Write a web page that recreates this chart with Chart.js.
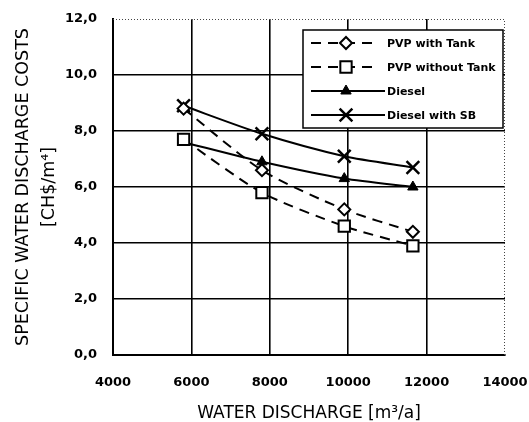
<!DOCTYPE html>
<html>
<head>
<meta charset="utf-8">
<script src="https://cdn.jsdelivr.net/npm/chart.js@4.4.1/dist/chart.umd.min.js"></script>
<style>
  body { margin: 0; background: #fff; }
  canvas { display: block; }
</style>
</head>
<body>
<canvas id="chart" width="529" height="422"></canvas>
<script>
// data
const discharge = [5800, 7800, 9900, 11650];
const pvpWithTank = [8.8, 6.6, 5.2, 4.4];
const pvpWithoutTank = [7.7, 5.8, 4.6, 3.9];
const diesel = [7.6, 6.9, 6.3, 6.0];
const dieselWithSB = [8.9, 7.9, 7.1, 6.7];
const seriesNames = ["PVP with Tank", "PVP without Tank", "Diesel", "Diesel with SB"];

const toPoints = (ys) => ys.map((y, i) => ({ x: discharge[i], y: y }));
const comma = (v) => v.toFixed(1).replace(".", ",");

// small legend box drawn inside the plot, top right
const boxLegend = {
  id: "boxLegend",
  afterDatasetsDraw(chart) {
    const { ctx, chartArea } = chart;
    const w = 200, h = 98;
    const left = chartArea.right - w - 2;
    const top = chartArea.top + 11;
    ctx.save();
    ctx.fillStyle = "#fff";
    ctx.fillRect(left, top, w, h);
    ctx.strokeStyle = "#000";
    ctx.lineWidth = 1.5;
    ctx.strokeRect(left, top, w, h);
    chart.data.datasets.forEach((ds, i) => {
      const y = top + 13 + i * 24;
      ctx.strokeStyle = "#000";
      ctx.lineWidth = 2;
      ctx.setLineDash(ds.borderDash || []);
      ctx.beginPath();
      ctx.moveTo(left + 8, y);
      ctx.lineTo(left + (ds.borderDash ? 76 : 82), y);
      ctx.stroke();
      ctx.setLineDash([]);
      ctx.fillStyle = ds.pointBackgroundColor;
      ctx.lineWidth = ds.pointBorderWidth;
      Chart.helpers.drawPoint(ctx, { pointStyle: ds.pointStyle, radius: ds.pointRadius, rotation: 0, borderWidth: ds.pointBorderWidth }, left + 43, y);
      ctx.fillStyle = "#000";
      ctx.font = "bold 11px 'DejaVu Sans'";
      ctx.textBaseline = "middle";
      ctx.fillText(ds.label, left + 84, y + 1);
    });
    ctx.restore();
  },
};

// dotted top and right edge of the plot area
const dottedFrame = {
  id: "dottedFrame",
  beforeDatasetsDraw(chart) {
    const { ctx, chartArea } = chart;
    ctx.save();
    ctx.strokeStyle = "#444";
    ctx.lineWidth = 1;
    ctx.setLineDash([1, 2]);
    ctx.beginPath();
    ctx.moveTo(chartArea.left, chartArea.top + 0.5);
    ctx.lineTo(chartArea.right - 0.5, chartArea.top + 0.5);
    ctx.lineTo(chartArea.right - 0.5, chartArea.bottom);
    ctx.stroke();
    ctx.restore();
  },
};

const lineDefaults = {
  borderColor: "#000",
  borderWidth: 2,
  tension: 0.25,
  pointBorderColor: "#000",
  fill: false,
};

new Chart(document.getElementById("chart"), {
  type: "line",
  data: {
    datasets: [
      {
        ...lineDefaults,
        label: seriesNames[0],
        data: toPoints(pvpWithTank),
        borderDash: [10, 7],
        pointStyle: "rectRot",
        pointRadius: 6,
        pointBackgroundColor: "#fff",
        pointBorderWidth: 2,
      },
      {
        ...lineDefaults,
        label: seriesNames[1],
        data: toPoints(pvpWithoutTank),
        borderDash: [10, 7],
        pointStyle: "rect",
        pointRadius: 8,
        pointBackgroundColor: "#fff",
        pointBorderWidth: 2,
      },
      {
        ...lineDefaults,
        label: seriesNames[2],
        data: toPoints(diesel),
        pointStyle: "triangle",
        pointRadius: 6,
        pointBackgroundColor: "#000",
        pointBorderWidth: 1,
      },
      {
        ...lineDefaults,
        label: seriesNames[3],
        data: toPoints(dieselWithSB),
        pointStyle: "crossRot",
        pointRadius: 9,
        pointBackgroundColor: "#000",
        pointBorderWidth: 2.5,
      },
    ],
  },
  options: {
    responsive: false,
    animation: false,
    layout: { padding: { top: 19, right: 24, left: 0, bottom: 0 } },
    plugins: {
      legend: { display: false },
      tooltip: { enabled: false },
    },
    scales: {
      x: {
        type: "linear",
        min: 4000,
        max: 14000,
        afterFit: (scale) => {
          scale.height = 67;
          scale.paddingLeft = 0;
          scale.paddingRight = 0;
        },
        ticks: {
          stepSize: 2000,
          padding: 20,
          color: "#000",
          font: { family: "DejaVu Sans", size: 13, weight: "bold" },
          callback: (v) => String(v),
        },
        grid: {
          drawTicks: false,
          lineWidth: 1.6,
          color: (c) => (c.tick && c.tick.value === 14000 ? "rgba(0,0,0,0)" : "#000"),
        },
        border: { color: "#000", width: 2 },
        title: {
          display: true,
          text: "WATER DISCHARGE [m³/a]",
          color: "#000",
          padding: { top: 0, bottom: -2 },
          font: { family: "DejaVu Sans", size: 17 },
        },
      },
      y: {
        min: 0,
        max: 12,
        afterFit: (scale) => {
          scale.width = 113;
          scale.paddingTop = 0;
          scale.paddingBottom = 0;
        },
        ticks: {
          stepSize: 2,
          padding: 16,
          color: "#000",
          font: { family: "DejaVu Sans", size: 13, weight: "bold" },
          callback: (v) => comma(v),
        },
        grid: {
          drawTicks: false,
          lineWidth: 1.6,
          color: (c) => (c.tick && c.tick.value === 12 ? "rgba(0,0,0,0)" : "#000"),
        },
        border: { color: "#000", width: 2 },
        title: {
          display: true,
          text: ["SPECIFIC WATER DISCHARGE COSTS", "[CH$/m⁴]"],
          color: "#000",
          padding: { top: 10, bottom: 0 },
          font: { family: "DejaVu Sans", size: 17.5, lineHeight: 1.5 },
        },
      },
    },
  },
  plugins: [dottedFrame, boxLegend],
});
</script>
</body>
</html>
